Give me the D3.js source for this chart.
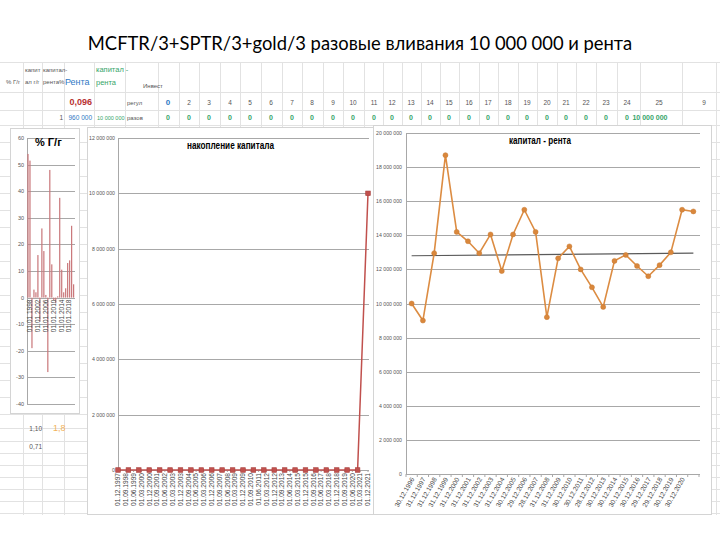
<!DOCTYPE html>
<html><head><meta charset="utf-8">
<script src="https://cdn.jsdelivr.net/npm/d3@7"></script>
<style>body{margin:0;background:#fff}svg{display:block}</style>
</head><body>
<svg id="c" width="720" height="540"></svg>
<script>
// ---------------- DATA ----------------
const titleText = "MCFTR/3+SPTR/3+gold/3 разовые вливания 10 000 000 и рента";

// spreadsheet rows
const regulLabels = ["0","2","3","4","5","6","7","8","9","10","11","12","13","14","15","16","17","18","19","20","21","22","23","24","25","9"];
const razovLabels = ["0","0","0","0","0","0","0","0","0","0","0","0","0","0","0","0","0","0","0","0","0","0","0","0","10 000 000"];
const sideValues = ["1,10","0,71"];
const sideHighlight = "1,8";

// left chart: % г/г
const yoyLabels = ["01.01.1998","01.01.1999","01.01.2000","01.01.2001","01.01.2002","01.01.2003","01.01.2004","01.01.2005","01.01.2006","01.01.2007","01.01.2008","01.01.2009","01.01.2010","01.01.2011","01.01.2012","01.01.2013","01.01.2014","01.01.2015","01.01.2016","01.01.2017","01.01.2018","01.01.2019","01.01.2020","01.01.2021"];
const yoyValues = [54, 51.5, -19, 3, 2, 16, -9, 26, 17.5, 1, -28, 48, 12.5, -1, -2, 0.5, 37.5, 10.5, 2, 3.5, 13, 14, 27, 5];
const yoyTickLabels = ["01.01.1998","01.01.2002","01.01.2006","01.01.2010","01.01.2014","01.01.2018"];
const yoyTicks = [-40,-30,-20,-10,0,10,20,30,40,50,60];

// middle chart: накопление капитала
const accDates = ["01.12.1997","01.12.1998","01.12.1999","01.12.2000","01.12.2001","01.12.2002","01.12.2003","01.12.2004","01.12.2005","01.12.2006","01.12.2007","01.12.2008","01.12.2009","01.12.2010","01.12.2011","01.12.2012","01.12.2013","01.12.2014","01.12.2015","01.12.2016","01.12.2017","01.12.2018","01.12.2019","01.12.2020","01.12.2021"];
const accValues = [0,0,0,0,0,0,0,0,0,0,0,0,0,0,0,0,0,0,0,0,0,0,0,0,10000000];
const accTickLabels = ["01.12.1997","01.09.1998","01.06.1999","01.03.2000","01.12.2000","01.09.2001","01.06.2002","01.03.2003","01.12.2003","01.09.2004","01.06.2005","01.03.2006","01.12.2006","01.09.2007","01.06.2008","01.03.2009","01.12.2009","01.09.2010","01.06.2011","01.03.2012","01.12.2012","01.09.2013","01.06.2014","01.03.2015","01.12.2015","01.09.2016","01.06.2017","01.03.2018","01.12.2018","01.09.2019","01.06.2020","01.03.2021","01.12.2021"];
const accTicks = [0,2000000,4000000,6000000,8000000,10000000,12000000];

// right chart: капитал - рента
const rentLabels = ["30.12.1996","31.12.1997","31.12.1998","31.12.1999","31.12.2000","31.12.2001","31.12.2002","31.12.2003","31.12.2004","30.12.2005","29.12.2006","28.12.2007","31.12.2008","31.12.2009","30.12.2010","30.12.2011","28.12.2012","30.12.2013","30.12.2014","30.12.2015","30.12.2016","29.12.2017","29.12.2018","30.12.2019","30.12.2020",""];
const rentValues = [10000000,9000000,12950000,18700000,14200000,13650000,12950000,14050000,11900000,14050000,15500000,14200000,9200000,12650000,13350000,12000000,10950000,9800000,12500000,12850000,12200000,11600000,12250000,13000000,15500000,15400000];
const rentTrend = [12800000,12950000];
const rentTicks = [0,2000000,4000000,6000000,8000000,10000000,12000000,14000000,16000000,18000000,20000000];

// ---------------- DRAW ----------------
const svg = d3.select("#c");
const F = "'Liberation Sans', Arial, sans-serif";
const nf = d3.formatLocale({decimal:",", thousands:" ", grouping:[3], currency:["",""]}).format(",");
const parse = d3.timeParse("%d.%m.%Y");

svg.append("rect").attr("width",720).attr("height",540).attr("fill","#fff");

// title
const t = svg.append("text").attr("x",360).attr("y",50).attr("text-anchor","middle")
  .attr("font-family","Lato, 'Open Sans', sans-serif").attr("font-size",20).attr("fill","#000").text(titleText);
const tw = t.node().getComputedTextLength();
t.attr("font-size", 20*545/tw);

// spreadsheet grid
const grid = svg.append("g").attr("stroke","#e2e2e2").attr("stroke-width",1);
const colLines = [23,42,64,94,125,158,179,199,220,240,261,282,302,323,343,364,383,402,421,440,459,479,498,518,537,557,576,596,617,640,682,716];
colLines.forEach(x=>grid.append("line").attr("x1",x+.5).attr("x2",x+.5).attr("y1",62).attr("y2",515));
const rowLines = [62,92,110,125,142,159,176,193,210,227,244,261,278,295,312,329,346,363,380,397,414,428,441,453,465,477,489,501,513];
rowLines.forEach(y=>grid.append("line").attr("x1",0).attr("x2",720).attr("y1",y+.5).attr("y2",y+.5));

// header texts
const hdr = svg.append("g").attr("font-family",F);
hdr.append("text").attr("x",6).attr("y",84).attr("font-size",6).attr("fill","#555").text("% Г/г");
hdr.append("text").attr("x",25).attr("y",72).attr("font-size",6).attr("fill","#555").text("капит");
hdr.append("text").attr("x",25).attr("y",84).attr("font-size",6).attr("fill","#555").text("ал г/г");
hdr.append("text").attr("x",43).attr("y",72).attr("font-size",6).attr("fill","#555").text("капитал-");
hdr.append("text").attr("x",43).attr("y",84).attr("font-size",6).attr("fill","#555").text("рента%");
hdr.append("text").attr("x",65).attr("y",85).attr("font-size",9).attr("fill","#2f78c4").text("Рента");
hdr.append("text").attr("x",96).attr("y",72).attr("font-size",7.5).attr("fill","#36a56a").text("капитал -");
hdr.append("text").attr("x",96).attr("y",85).attr("font-size",7.5).attr("fill","#36a56a").text("рента");
hdr.append("text").attr("x",143).attr("y",88).attr("font-size",6).attr("fill","#555").text("Инвест");
hdr.append("text").attr("x",92).attr("y",105).attr("text-anchor","end").attr("font-size",9).attr("font-weight","bold").attr("fill","#b83232").text("0,096");
hdr.append("text").attr("x",127).attr("y",105).attr("font-size",6).attr("fill","#555").text("регул");
hdr.append("text").attr("x",63).attr("y",120).attr("text-anchor","end").attr("font-size",6.5).attr("fill","#555").text("1");
hdr.append("text").attr("x",92).attr("y",120).attr("text-anchor","end").attr("font-size",6.5).attr("fill","#2f78c4").text("960 000");
hdr.append("text").attr("x",97).attr("y",120).attr("font-size",5.5).attr("fill","#36a56a").text("10 000 000");
hdr.append("text").attr("x",127).attr("y",120).attr("font-size",6).attr("fill","#555").text("разов");

const numX = [168,189,209,230,250,271,292,312,333,353,374,392,411,430,449,469,488,508,527,547,566,586,606,627,659,704];
regulLabels.forEach((s,i)=>hdr.append("text").attr("x",numX[i]).attr("y",105).attr("text-anchor","middle")
  .attr("font-size",i===0?8:6.5).attr("font-weight",i===0?"bold":"normal").attr("fill",i===0?"#2f78c4":"#555").text(s));
razovLabels.forEach((s,i)=>hdr.append("text").attr("x",i===24?650:numX[i]).attr("y",120).attr("text-anchor","middle")
  .attr("font-size",7).attr("font-weight","bold").attr("fill","#36a56a").text(s));

// side values under left chart
hdr.append("text").attr("x",42).attr("y",431).attr("text-anchor","end").attr("font-size",6.5).attr("fill","#555").text(sideValues[0]);
hdr.append("text").attr("x",42).attr("y",449).attr("text-anchor","end").attr("font-size",6.5).attr("fill","#555").text(sideValues[1]);
hdr.append("text").attr("x",53).attr("y",431).attr("font-size",9).attr("fill","#f2b25a").text(sideHighlight);

// ---------- LEFT CHART ----------
const L = svg.append("g").attr("font-family",F);
L.append("rect").attr("x",10.5).attr("y",128.5).attr("width",69).attr("height",285).attr("fill","#fff").attr("stroke","#d4d4d4");
const ly = d3.scaleLinear().domain([-40,60]).range([404,138]);
const lx = d3.scaleBand().domain(d3.range(yoyValues.length)).range([27,74.6]);
yoyTicks.forEach(v=>{
  L.append("line").attr("x1",27).attr("x2",75).attr("y1",Math.round(ly(v))+.5).attr("y2",Math.round(ly(v))+.5).attr("stroke","#a8a8a8");
  L.append("text").attr("x",24).attr("y",ly(v)).attr("dy","0.35em").attr("text-anchor","end").attr("font-size",5.5).attr("fill","#555").text(v);
});
L.append("line").attr("x1",27.5).attr("x2",27.5).attr("y1",138).attr("y2",404).attr("stroke","#a8a8a8");
L.selectAll("rect.bar").data(yoyValues).join("rect").attr("class","bar")
  .attr("x",(d,i)=>lx(i)+lx.bandwidth()/2-0.6).attr("width",1.2)
  .attr("y",d=>ly(Math.max(0,d))).attr("height",d=>Math.abs(ly(d)-ly(0)))
  .attr("fill","#c9777a");
yoyTickLabels.forEach(s=>{
  const i = yoyLabels.indexOf(s);
  const x = lx(i)+lx.bandwidth()/2+1.5;
  L.append("text").attr("transform",`translate(${x},${ly(0)+2}) rotate(-90)`).attr("text-anchor","end")
    .attr("dy","0.35em").attr("font-size",6.5).attr("fill","#444").text(s);
});
L.append("text").attr("x",35).attr("y",146).attr("font-size",11).attr("font-weight","bold").attr("fill","#000").text("% Г/г");

// ---------- MIDDLE CHART ----------
const M = svg.append("g").attr("font-family",F);
M.append("rect").attr("x",87.5).attr("y",127.5).attr("width",287).attr("height",387).attr("fill","#fff").attr("stroke","#d4d4d4");
const my = d3.scaleLinear().domain([0,12000000]).range([470,138]);
const mx = d3.scaleTime().domain([parse(accDates[0]), parse(accDates[accDates.length-1])]).range([118,368]);
accTicks.forEach(v=>{
  const y = Math.round(my(v))+.5;
  M.append("line").attr("x1",118).attr("x2",369).attr("y1",y).attr("y2",y).attr("stroke","#a8a8a8");
  M.append("text").attr("x",115).attr("y",y).attr("dy","0.35em").attr("text-anchor","end").attr("font-size",5.2).attr("fill","#555").text(nf(v));
});
M.append("line").attr("x1",118.5).attr("x2",118.5).attr("y1",138).attr("y2",470).attr("stroke","#a8a8a8");
accTickLabels.forEach(s=>{
  const x = mx(parse(s));
  M.append("line").attr("x1",x).attr("x2",x).attr("y1",470).attr("y2",472).attr("stroke","#a8a8a8");
  M.append("text").attr("transform",`translate(${x},473) rotate(-90)`).attr("text-anchor","end")
    .attr("dy","0.35em").attr("font-size",6.6).attr("fill","#444").text(s);
});
const accPts = accDates.map((d,i)=>[mx(parse(d)), my(accValues[i])]);
M.append("path").attr("d",d3.line()(accPts)).attr("fill","none").attr("stroke","#c0504d").attr("stroke-width",1.5);
M.selectAll("rect.mk").data(accPts).join("rect").attr("class","mk")
  .attr("x",d=>d[0]-2.3).attr("y",d=>d[1]-2.3).attr("width",4.6).attr("height",4.6)
  .attr("fill","#c0504d").attr("stroke","#a8403d").attr("stroke-width",0.6);
M.append("text").attr("x",230.5).attr("y",149).attr("text-anchor","middle").attr("font-size",11)
  .attr("font-weight","bold").attr("textLength",87).attr("lengthAdjust","spacingAndGlyphs").attr("fill","#000").text("накопление капитала");

// ---------- RIGHT CHART ----------
const R = svg.append("g").attr("font-family",F);
R.append("rect").attr("x",373.5).attr("y",125.5).attr("width",338).attr("height",389).attr("fill","#fff").attr("stroke","#d4d4d4");
const ry = d3.scaleLinear().domain([0,20000000]).range([474,133]);
const rx = d3.scaleBand().domain(d3.range(rentValues.length)).range([406,699]);
rentTicks.forEach(v=>{
  const y = Math.round(ry(v))+.5;
  R.append("line").attr("x1",406).attr("x2",700).attr("y1",y).attr("y2",y).attr("stroke","#a8a8a8");
  R.append("text").attr("x",402).attr("y",y).attr("dy","0.35em").attr("text-anchor","end").attr("font-size",5.2).attr("fill","#555").text(nf(v));
});
R.append("line").attr("x1",406.5).attr("x2",406.5).attr("y1",133).attr("y2",474).attr("stroke","#a8a8a8");
d3.range(rentValues.length+1).forEach(i=>{
  const x = 406 + i*rx.step();
  R.append("line").attr("x1",x).attr("x2",x).attr("y1",474).attr("y2",477).attr("stroke","#a8a8a8");
});
rentLabels.forEach((s,i)=>{
  const x = rx(i)+rx.bandwidth()/2;
  R.append("text").attr("transform",`translate(${x+1},478) rotate(-60)`).attr("text-anchor","end")
    .attr("dy","0.35em").attr("font-size",6.6).attr("fill","#444").text(s);
});
const cx = i=>rx(i)+rx.bandwidth()/2;
R.append("line").attr("x1",cx(0)).attr("x2",cx(rentValues.length-1)).attr("y1",ry(rentTrend[0])).attr("y2",ry(rentTrend[1]))
  .attr("stroke","#5a5a5a").attr("stroke-width",1.2);
const rentPts = rentValues.map((v,i)=>[cx(i), ry(v)]);
R.append("path").attr("d",d3.line()(rentPts)).attr("fill","none").attr("stroke","#dc8c42").attr("stroke-width",1.6);
R.selectAll("circle.mk").data(rentPts).join("circle").attr("class","mk")
  .attr("cx",d=>d[0]).attr("cy",d=>d[1]).attr("r",2.5).attr("fill","#d9873c").attr("stroke","#c97a32").attr("stroke-width",0.5);
R.append("text").attr("x",540).attr("y",144).attr("text-anchor","middle").attr("font-size",11)
  .attr("font-weight","bold").attr("textLength",62).attr("lengthAdjust","spacingAndGlyphs").attr("fill","#000").text("капитал - рента");
</script>
</body></html>
